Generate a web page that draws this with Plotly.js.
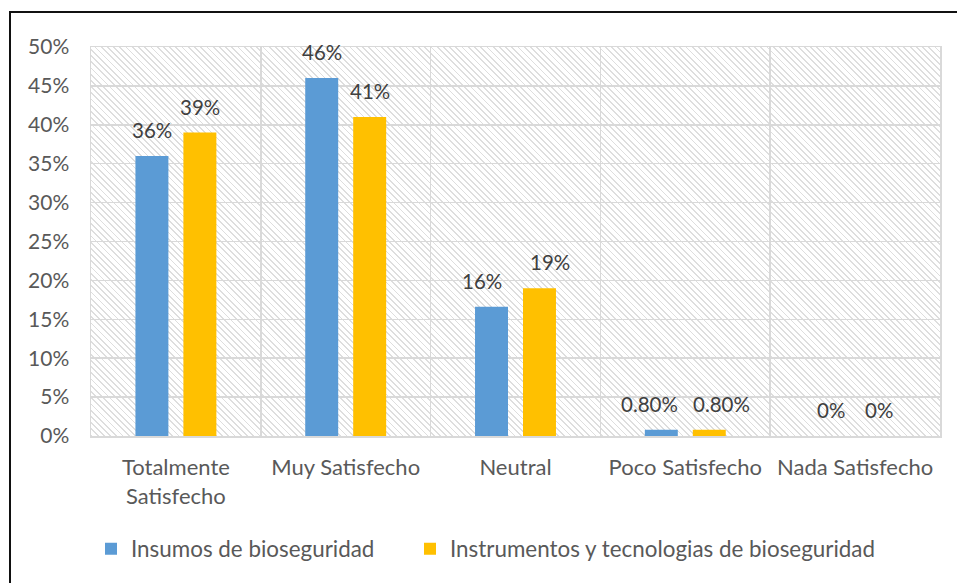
<!DOCTYPE html>
<html>
<head>
<meta charset="utf-8">
<script src="https://cdn.plot.ly/plotly-3.0.1.min.js"></script>
<style>
  html, body { margin: 0; padding: 0; background: #ffffff; }
  #wrap { position: relative; width: 957px; height: 583px; overflow: hidden; background: #fff; }
  #hatch { position: absolute; left: 91px; top: 47px; width: 849px; height: 389px;
    background: repeating-linear-gradient(45deg, #dedede 0 1.3px, #ffffff 1.3px 4.4px); z-index: 0; }
  #chart { position: absolute; left: 0; top: 0; width: 957px; height: 583px; z-index: 1; }
  #frame { position: absolute; left: 9px; top: 11px; width: 960px; height: 600px;
    border-left: 2px solid #111; border-top: 2px solid #111; z-index: 2; pointer-events: none; }
</style>
</head>
<body>
<div id="wrap">
  <div id="hatch"></div>
  <div id="chart"></div>
  <div id="frame"></div>
</div>
<script>
const categories = ["Totalmente<br>Satisfecho", "Muy Satisfecho", "Neutral", "Poco Satisfecho", "Nada Satisfecho"];
const seriesNames = ["Insumos de bioseguridad", "Instrumentos y tecnologias de bioseguridad"];
const insumos = [0.36, 0.46, 0.166, 0.008, 0];
const instrumentos = [0.39, 0.41, 0.19, 0.008, 0];
const insumosLabels = ["36%", "46%", "16%", "0.80%", "0%"];
const instrumentosLabels = ["39%", "41%", "19%", "0.80%", "0%"];
const yTickVals = [0, 0.05, 0.10, 0.15, 0.20, 0.25, 0.30, 0.35, 0.40, 0.45, 0.50];
const yTickText = ["0%", "5%", "10%", "15%", "20%", "25%", "30%", "35%", "40%", "45%", "50%"];

const FONT = "Lato, 'Noto Sans', sans-serif";
const COLORS = ["#5B9BD5", "#FFC000"];
const labelFont = {family: FONT, size: 20.5, color: "#404040"};

// pixel nudges for data labels (layout only)
const barOffset = 24;
const extraShift = [0, 0, 10, 12, 0];

const traces = [
  {type: "bar", name: seriesNames[0], x: categories, y: insumos, legend: "legend",
   marker: {color: COLORS[0]}, hoverinfo: "skip"},
  {type: "bar", name: seriesNames[1], x: categories, y: instrumentos, legend: "legend2",
   marker: {color: COLORS[1]}, hoverinfo: "skip"}
];

const annotations = [];
[[insumos, insumosLabels, -1], [instrumentos, instrumentosLabels, 1]].forEach(([vals, labs, side]) => {
  vals.forEach((v, i) => {
    annotations.push({x: categories[i], y: v, xref: "x", yref: "y", text: labs[i],
      showarrow: false, xanchor: "center", yanchor: "bottom",
      xshift: side * (barOffset + extraShift[i]), yshift: 12, font: labelFont});
  });
});

const legendFont = {family: FONT, size: 22.4, color: "#595959"};
const layout = {
  width: 957, height: 583,
  margin: {l: 91, r: 17, t: 47, b: 147, autoexpand: false},
  paper_bgcolor: "rgba(0,0,0,0)",
  plot_bgcolor: "rgba(0,0,0,0)",
  barmode: "group",
  bargap: 0.435,
  bargroupgap: 0.3125,
  font: {family: FONT, size: 22, color: "#595959"},
  showlegend: true,
  legend: {orientation: "h", xref: "container", x: 91 / 957, xanchor: "left",
           yref: "container", y: 0.058, yanchor: "middle", font: legendFont, itemwidth: 30},
  legend2: {orientation: "h", xref: "container", x: 410 / 957, xanchor: "left",
            yref: "container", y: 0.058, yanchor: "middle", font: legendFont, itemwidth: 30},
  annotations: annotations,
  xaxis: {type: "category", tickson: "boundaries", showgrid: true, gridcolor: "#d9d9d9", gridwidth: 1.5,
          showline: true, linecolor: "#d9d9d9", linewidth: 1.5, mirror: true, automargin: false,
          ticks: "", ticklen: 0, ticklabelstandoff: 11,
          tickfont: {family: FONT, size: 22, color: "#595959"}, fixedrange: true},
  yaxis: {range: [0, 0.5], tickvals: yTickVals, ticktext: yTickText, showgrid: true, automargin: false,
          gridcolor: "#d9d9d9", gridwidth: 1.5, zeroline: false, showline: true, linecolor: "#d9d9d9",
          linewidth: 1.5, mirror: true, ticks: "", ticklabelstandoff: 16,
          tickfont: {family: FONT, size: 21, color: "#595959"}, fixedrange: true}
};

Plotly.newPlot("chart", traces, layout, {displayModeBar: false, staticPlot: true});
</script>
</body>
</html>
